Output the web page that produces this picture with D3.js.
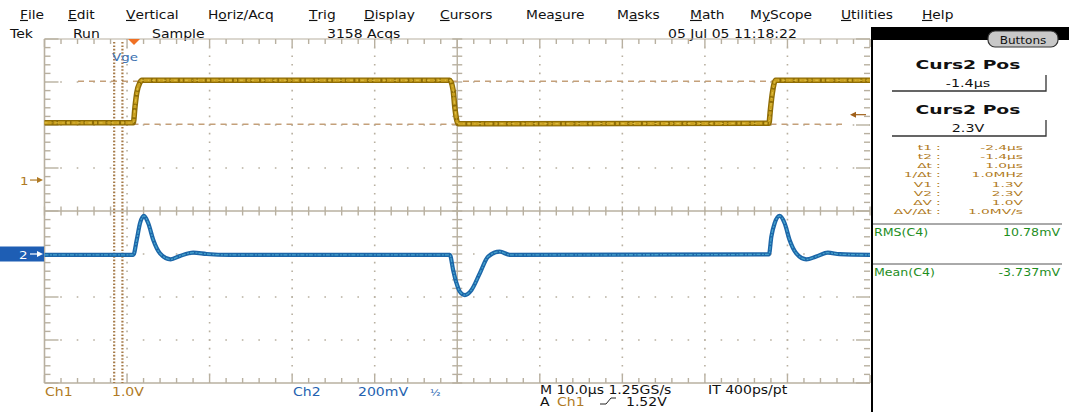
<!DOCTYPE html>
<html>
<head>
<meta charset="utf-8">
<script src="https://cdn.jsdelivr.net/npm/d3@7"></script>
<style>
  html, body { margin: 0; padding: 0; background: #fff; }
  svg { display: block; }
  text { font-family: "DejaVu Sans", sans-serif; }
</style>
</head>
<body>
<svg id="scope"></svg>
<script>
// ---- data ----
const menuItems = ['File', 'Edit', 'Vertical', 'Horiz/Acq', 'Trig', 'Display', 'Cursors', 'Measure', 'Masks', 'Math', 'MyScope', 'Utilities', 'Help']
const menuUnderline = [0, 0, 0, 1, 0, 0, 0, 3, 1, 0, 1, 0, 0]

const timeDomain = [-10.84, 89.16]           // us, 10 us/div x 10 div
const ch1VoltDomain = [-4.72, 3.28]          // V, 1.0 V/div x 8 div
const ch2mVDomain = [-600, 1000]             // mV, 200 mV/div x 8 div

const ch1Times = [-10.84, -0.08, 0.12, 0.33, 0.73, 0.93, 38.26, 38.66, 38.86, 39.26, 76.92, 77.09, 77.33, 77.73, 89.16]
const ch1Volts = [1.33, 1.33, 1.70, 2.02, 2.27, 2.32, 2.32, 2.09, 1.70, 1.31, 1.32, 1.63, 2.02, 2.32, 2.32]

const ch2Times = [-10.84, -0.08, 0.33, 0.73, 1.21, 1.73, 2.34, 3.15, 4.44, 5.57, 7.18, 8.80, 11.6,
  38.26, 38.66, 39.07, 39.47, 40.08, 40.89, 41.89, 42.9, 44.31, 45.52,
  76.92, 77.21, 77.61, 78.21, 78.82, 79.42, 80.23, 81.44, 82.65, 84.06, 85.48, 89.16]
const ch2mV = [-4, -4, 65, 143, 177, 143, 65, 3, -25, -9, 6, 0, -4,
  -4, -74, -136, -175, -191, -167, -90, -12, 11, -4,
  -2, 81, 143, 177, 143, 65, 3, -25, -12, 6, -1, -4]

const cursorTimes = [-2.4, -1.4]   // t1, t2
const cursorVolts = [1.3, 2.3]     // V1, V2
const triggerLevel = 1.52

const readoutLabels = ['t1', 't2', '\u0394t', '1/\u0394t', 'V1', 'V2', '\u0394V', '\u0394V/\u0394t']
const readoutValues = ['-2.4\u00b5s', '-1.4\u00b5s', '1.0\u00b5s', '1.0MHz', '1.3V', '2.3V', '1.0V', '1.0MV/s']

// ---- layout ----
const width = 1069
const height = 412
const gLeft = 44.5, gRight = 870, gTop = 39, gBottom = 383

const svg = d3.select('#scope').attr('width', width).attr('height', height)

const x = d3.scaleLinear().domain(timeDomain).range([gLeft, gRight])
const y1 = d3.scaleLinear().domain(ch1VoltDomain).range([gBottom, gTop])
const y2 = d3.scaleLinear().domain(ch2mVDomain).range([gBottom, gTop])
const divX = d3.scaleLinear().domain([0, 10]).range([gLeft, gRight])
const divY = d3.scaleLinear().domain([0, 8]).range([gTop, gBottom])

const gridColor = '#b8b0a0'
const brown = '#b07a24'
const blue = '#2462b0'

// stretched scope text (the capture is wide and short)
function txt(g, px, py, str, o) {
  o = o || {}
  return g.append('text')
    .attr('transform', `translate(${px},${py}) scale(${o.sx || 1.22},${o.sy || 1})`)
    .attr('text-anchor', o.anchor || 'start')
    .attr('font-size', o.size || 11.5)
    .attr('font-weight', o.weight || 'normal')
    .attr('fill', o.color || '#111')
    .text(str)
}

// ---- menu bar ----
const menuX = [20, 68, 126, 208, 309, 364, 440, 526, 617, 690, 750, 841, 922]
const menu = svg.append('g')
menuItems.forEach((m, i) => {
  const t = menu.append('text')
    .attr('transform', `translate(${menuX[i]},19) scale(1.2,1)`)
    .attr('font-size', 11.5).attr('fill', '#111')
  const u = menuUnderline[i]
  if (u > 0) t.append('tspan').text(m.slice(0, u))
  t.append('tspan').style('text-decoration', 'underline').text(m[u])
  t.append('tspan').text(m.slice(u + 1))
})

const status = svg.append('g')
txt(status, 10, 38, 'Tek')
txt(status, 73, 38, 'Run')
txt(status, 152, 38, 'Sample')
txt(status, 327, 38, '3158 Acqs')
txt(status, 668, 38, '05 Jul 05 11:18:22')

// ---- graticule ----
const grid = svg.append('g')
const stepY = divY(0.2) - divY(0)
const stepX = divX(0.2) - divX(0)

// dotted division lines
d3.range(1, 10).filter(d => d !== 5).forEach(d => {
  grid.append('line')
    .attr('x1', divX(d)).attr('x2', divX(d)).attr('y1', gTop).attr('y2', gBottom)
    .attr('stroke', gridColor).attr('stroke-width', 1.6)
    .attr('stroke-dasharray', '1.6,' + (stepY - 1.6))
    .attr('stroke-dashoffset', 0.8)
})
d3.range(1, 8).filter(d => d !== 4).forEach(d => {
  grid.append('line')
    .attr('x1', gLeft).attr('x2', gRight).attr('y1', divY(d)).attr('y2', divY(d))
    .attr('stroke', gridColor).attr('stroke-width', 1.6)
    .attr('stroke-dasharray', '1.6,' + (stepX - 1.6))
    .attr('stroke-dashoffset', 0.8)
})

// centre cross
grid.append('line').attr('x1', divX(5)).attr('x2', divX(5)).attr('y1', gTop).attr('y2', gBottom)
  .attr('stroke', gridColor).attr('stroke-width', 1.4)
grid.append('line').attr('x1', gLeft).attr('x2', gRight).attr('y1', divY(4)).attr('y2', divY(4))
  .attr('stroke', gridColor).attr('stroke-width', 1.4)

// minor ticks on centre cross and edges
d3.range(0, 10.01, 0.2).forEach(d => {
  const px = divX(d)
  const big = Math.abs(d - Math.round(d)) < 1e-6
  grid.append('line').attr('x1', px).attr('x2', px).attr('y1', divY(4) - 4.5).attr('y2', divY(4) + 4.5)
    .attr('stroke', gridColor).attr('stroke-width', 1.4)
  grid.append('line').attr('x1', px).attr('x2', px).attr('y1', gTop).attr('y2', gTop + (big ? 8 : 5))
    .attr('stroke', gridColor).attr('stroke-width', 1.4)
  grid.append('line').attr('x1', px).attr('x2', px).attr('y1', gBottom).attr('y2', gBottom - (big ? 8 : 5))
    .attr('stroke', gridColor).attr('stroke-width', 1.4)
})
d3.range(0, 8.01, 0.2).forEach(d => {
  const py = divY(d)
  const big = Math.abs(d - Math.round(d)) < 1e-6
  grid.append('line').attr('x1', divX(5) - 5).attr('x2', divX(5) + 5).attr('y1', py).attr('y2', py)
    .attr('stroke', gridColor).attr('stroke-width', 1.4)
  grid.append('line').attr('x1', gLeft).attr('x2', gLeft + (big ? 14 : 6)).attr('y1', py).attr('y2', py)
    .attr('stroke', gridColor).attr('stroke-width', 1.4)
  grid.append('line').attr('x1', gRight).attr('x2', gRight - (big ? 14 : 6)).attr('y1', py).attr('y2', py)
    .attr('stroke', gridColor).attr('stroke-width', 1.4)
})

// border
grid.append('line').attr('x1', gLeft).attr('x2', gLeft).attr('y1', gTop).attr('y2', gBottom)
  .attr('stroke', gridColor).attr('stroke-width', 1.6)
grid.append('line').attr('x1', gLeft).attr('x2', gRight).attr('y1', gBottom).attr('y2', gBottom)
  .attr('stroke', gridColor).attr('stroke-width', 1.6)
grid.append('line').attr('x1', gLeft).attr('x2', gRight).attr('y1', gTop).attr('y2', gTop)
  .attr('stroke', gridColor).attr('stroke-width', 1.2)

// ---- cursors ----
const cur = svg.append('g')
cursorVolts.forEach((v, i) => {
  cur.append('line')
    .attr('x1', i === 1 ? 78 : gLeft).attr('x2', i === 1 ? gRight : 842)
    .attr('y1', y1(v)).attr('y2', y1(v))
    .attr('stroke', '#c4a07a').attr('stroke-width', 1.5)
    .attr('stroke-dasharray', '6,5')
})
cursorTimes.forEach(t => {
  cur.append('line')
    .attr('x1', x(t)).attr('x2', x(t)).attr('y1', gTop + 3).attr('y2', gBottom)
    .attr('stroke', '#a57a48').attr('stroke-width', 2.2)
    .attr('stroke-dasharray', '1.6,1.8')
})

// ---- traces ----
const line1 = d3.line().x(d => x(d[0])).y(d => y1(d[1])).curve(d3.curveMonotoneX)
const line2 = d3.line().x(d => x(d[0])).y(d => y2(d[1])).curve(d3.curveMonotoneX)
const ch1Data = d3.zip(ch1Times, ch1Volts)
const ch2Data = d3.zip(ch2Times, ch2mV)

const traces = svg.append('g')
traces.append('path').datum(ch1Data).attr('d', line1)
  .attr('fill', 'none').attr('stroke', '#8e6c06').attr('stroke-width', 5.5)
traces.append('path').datum(ch1Data).attr('d', line1)
  .attr('fill', 'none').attr('stroke', '#c9a020').attr('stroke-width', 3)
  .attr('stroke-dasharray', '7,2,3,1.5')
traces.append('path').datum(ch1Data).attr('d', line1)
  .attr('fill', 'none').attr('stroke', '#e0c248').attr('stroke-width', 1)
  .attr('stroke-dasharray', '3,4,1,3')

traces.append('path').datum(ch2Data).attr('d', line2)
  .attr('fill', 'none').attr('stroke', '#1c66a8').attr('stroke-width', 4.2)
traces.append('path').datum(ch2Data).attr('d', line2)
  .attr('fill', 'none').attr('stroke', '#46a2cc').attr('stroke-width', 1.3)
  .attr('stroke-dasharray', '4,1.5,2,1')

// ---- markers ----
const mk = svg.append('g')
// trigger position
mk.append('path')
  .attr('d', `M${x(0) - 6},${gTop} L${x(0) + 6},${gTop} L${x(0)},${gTop + 6} Z`)
  .attr('fill', '#f07024')
txt(mk, 112, 61, 'Vge', { color: '#3c70b0', size: 11 })

// ch1 ground
txt(mk, 20, y1(0) + 4.5, '1', { color: brown, size: 11 })
mk.append('line').attr('x1', 30).attr('x2', 40).attr('y1', y1(0)).attr('y2', y1(0))
  .attr('stroke', brown).attr('stroke-width', 1.2)
mk.append('path').attr('d', `M${43},${y1(0)} L${37},${y1(0) - 3} L${37},${y1(0) + 3} Z`).attr('fill', brown)

// ch2 ground
mk.append('rect').attr('x', 0).attr('y', y2(0) - 7.5).attr('width', 44).attr('height', 15).attr('fill', '#1e5eb4')
txt(mk, 19, y2(0) + 4.5, '2', { color: '#fff', size: 11 })
mk.append('line').attr('x1', 30).attr('x2', 40).attr('y1', y2(0)).attr('y2', y2(0))
  .attr('stroke', '#fff').attr('stroke-width', 1.2)
mk.append('path').attr('d', `M${43},${y2(0)} L${37},${y2(0) - 3} L${37},${y2(0) + 3} Z`).attr('fill', '#fff')

// trigger level
mk.append('line').attr('x1', 853).attr('x2', 866).attr('y1', y1(triggerLevel)).attr('y2', y1(triggerLevel))
  .attr('stroke', '#a0601a').attr('stroke-width', 1.2)
mk.append('path')
  .attr('d', `M${850},${y1(triggerLevel)} L${856},${y1(triggerLevel) - 3} L${856},${y1(triggerLevel) + 3} Z`)
  .attr('fill', '#a0601a')

// ---- bottom readout ----
const bot = svg.append('g')
txt(bot, 45, 396, 'Ch1', { color: brown })
txt(bot, 112, 396, '1.0V', { color: brown })
txt(bot, 293, 396, 'Ch2', { color: blue })
txt(bot, 358, 396, '200mV', { color: blue })
txt(bot, 430, 396, '\u00bd', { color: blue, size: 9 })
txt(bot, 540, 394, 'M 10.0\u00b5s 1.25GS/s')
txt(bot, 708, 394, 'IT 400ps/pt')
txt(bot, 540, 406, 'A')
txt(bot, 557, 406, 'Ch1', { color: brown })
bot.append('path').attr('d', 'M600,404 L606,404 L611,398 L616,398')
  .attr('fill', 'none').attr('stroke', '#222').attr('stroke-width', 1)
txt(bot, 626, 406, '1.52V')

// ---- side panel ----
const panel = svg.append('g')
panel.append('rect').attr('x', 872).attr('y', 27).attr('width', 197).attr('height', 13).attr('fill', '#000')
panel.append('line').attr('x1', 872).attr('x2', 872).attr('y1', 27).attr('y2', height)
  .attr('stroke', '#000').attr('stroke-width', 2)
panel.append('rect').attr('x', 988).attr('y', 31).attr('width', 70).attr('height', 16).attr('rx', 7)
  .attr('fill', '#c8c8c8').attr('stroke', '#333').attr('stroke-width', 1.2)
txt(panel, 1023, 44, 'Buttons', { anchor: 'middle', size: 10.5, sx: 1.15 })

const cx = 968
txt(panel, cx, 69, 'Curs2 Pos', { anchor: 'middle', size: 12.5, weight: 'bold', sx: 1.5 })
txt(panel, cx, 87, '-1.4\u00b5s', { anchor: 'middle', size: 11, sx: 1.3 })
panel.append('path').attr('d', 'M892,91 L1046,91 L1046,75').attr('fill', 'none').attr('stroke', '#333').attr('stroke-width', 1.3)
txt(panel, cx, 114, 'Curs2 Pos', { anchor: 'middle', size: 12.5, weight: 'bold', sx: 1.5 })
txt(panel, cx, 132, '2.3V', { anchor: 'middle', size: 11, sx: 1.3 })
panel.append('path').attr('d', 'M892,136 L1046,136 L1046,120').attr('fill', 'none').attr('stroke', '#333').attr('stroke-width', 1.3)

const rowY = d3.scaleLinear().domain([0, 7]).range([150, 214])
readoutLabels.forEach((l, i) => {
  txt(panel, 932, rowY(i), l, { anchor: 'end', size: 9.5, color: brown, sx: 1.45, sy: 0.82 })
  txt(panel, 936, rowY(i), ':', { size: 9.5, color: brown, sx: 1.45, sy: 0.82 })
  txt(panel, 1023, rowY(i), readoutValues[i], { anchor: 'end', size: 9.5, color: brown, sx: 1.45, sy: 0.82 })
})

const green = '#1e8e1e'
panel.append('line').attr('x1', 873).attr('x2', 1062).attr('y1', 224).attr('y2', 224).attr('stroke', '#555').attr('stroke-width', 1)
txt(panel, 874, 236, 'RMS(C4)', { size: 10.5, color: green, sx: 1.2 })
txt(panel, 1060, 236, '10.78mV', { anchor: 'end', size: 10.5, color: green, sx: 1.2 })
panel.append('line').attr('x1', 873).attr('x2', 1062).attr('y1', 264).attr('y2', 264).attr('stroke', '#555').attr('stroke-width', 1)
txt(panel, 874, 276, 'Mean(C4)', { size: 10.5, color: green, sx: 1.2 })
txt(panel, 1060, 276, '-3.737mV', { anchor: 'end', size: 10.5, color: green, sx: 1.2 })
</script>
</body>
</html>
